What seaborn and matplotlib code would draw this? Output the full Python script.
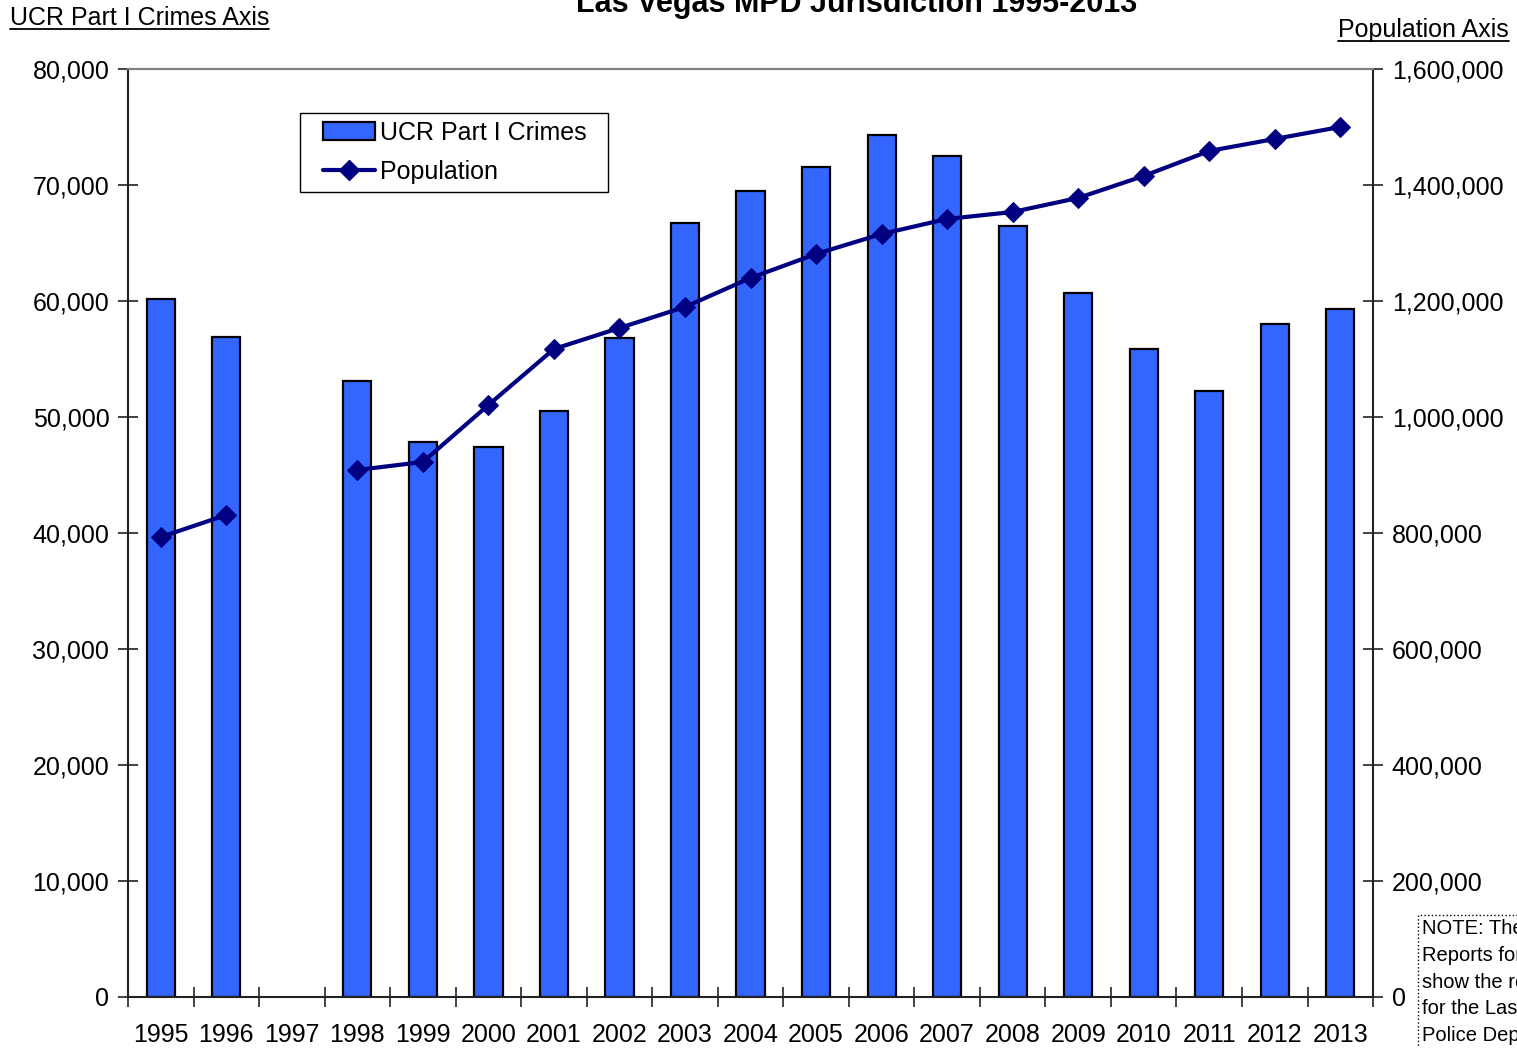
import matplotlib
matplotlib.use("Agg")
import matplotlib.pyplot as plt
import seaborn as sns
import numpy as np
import pandas as pd
from matplotlib.patches import Patch, Rectangle
from matplotlib.lines import Line2D
from matplotlib.ticker import FuncFormatter, FixedLocator

# data (1997 not reported)
years = [str(y) for y in range(1995, 2014)]
crimes = [60170, 56900, np.nan, 53100, 47850, 47400, 50520, 56800, 66720,
          69480, 71550, 74300, 72500, 66470, 60700, 55860, 52240, 58020, 59320]
population = [793000, 831000, np.nan, 908600, 922400, 1020700, 1117200, 1153400,
              1189700, 1239700, 1281000, 1315500, 1341400, 1353400, 1377600,
              1415500, 1458600, 1479300, 1500000]

bar_color = "#3366FF"
line_color = "#000080"

sns.set_theme(style="white")
plt.rcParams["font.family"] = ["Liberation Sans", "DejaVu Sans"]
plt.rcParams["text.color"] = "black"
plt.rcParams["xtick.color"] = "black"
plt.rcParams["ytick.color"] = "black"

df = pd.DataFrame({"year": years, "crimes": crimes, "population": population})
df["pos"] = np.arange(len(years))
# break the line where a year is missing
df["segment"] = df["population"].isna().cumsum()
line_df = df.dropna(subset=["population"])

fig = plt.figure(figsize=(15.17, 10.48), dpi=100)
ax = fig.add_axes([0.0844, 0.0487, 0.8207, 0.8855])

sns.barplot(data=df.dropna(subset=["crimes"]), x="year", y="crimes", order=years,
            color=bar_color, edgecolor="black", linewidth=1.6, width=0.43,
            saturation=1, ax=ax)
ax.set_xlim(-0.5, len(years) - 0.5)
ax.set_ylim(0, 80000)
ax.set_yticks(np.arange(0, 80001, 10000))
ax.yaxis.set_major_formatter(FuncFormatter(lambda v, p: f"{v:,.0f}"))
ax.set_xlabel("")
ax.set_ylabel("")

ax2 = ax.twinx()
sns.lineplot(data=line_df, x="pos", y="population", units="segment", estimator=None,
             color=line_color, linewidth=3, marker="D", markersize=10,
             markeredgecolor=line_color, ax=ax2, legend=False)
ax2.set_ylim(0, 1600000)
ax2.set_yticks(np.arange(0, 1600001, 200000))
ax2.yaxis.set_major_formatter(FuncFormatter(lambda v, p: f"{v:,.0f}"))
ax2.set_xlabel("")
ax2.set_ylabel("")
ax2.set_xlim(-0.5, len(years) - 0.5)

# x ticks at category boundaries, labels centred
ax.xaxis.set_major_locator(FixedLocator(np.arange(-0.5, len(years), 1.0)))
ax.xaxis.set_minor_locator(FixedLocator(np.arange(len(years))))
ax.set_xticklabels([""] * (len(years) + 1))
ax.set_xticklabels(years, minor=True)
ax.tick_params(axis="x", which="major", direction="inout", length=14, width=1.2,
               color="#222222", bottom=True)
ax.tick_params(axis="x", which="minor", length=0, pad=19, labelsize=18,
               labelcolor="black", bottom=True)
ax.tick_params(axis="y", direction="inout", length=15, width=1.2, color="#222222",
               labelsize=18, labelcolor="black", pad=6, left=True)
ax2.tick_params(axis="y", direction="inout", length=15, width=1.2, color="#222222",
                labelsize=18, labelcolor="black", pad=6, right=True)

for s in ["left", "bottom"]:
    ax.spines[s].set_color("#222222")
    ax.spines[s].set_linewidth(1.5)
ax.spines["right"].set_visible(False)
ax.spines["top"].set_color("#808080")
ax.spines["top"].set_linewidth(1.5)
ax2.spines["left"].set_visible(False)
ax2.spines["bottom"].set_visible(False)
ax2.spines["top"].set_color("#808080")
ax2.spines["top"].set_linewidth(1.5)
ax2.spines["right"].set_color("#222222")
ax2.spines["right"].set_linewidth(1.5)

handles = [Patch(facecolor=bar_color, edgecolor="black", linewidth=1.6),
           Line2D([0], [0], color=line_color, linewidth=3, marker="D", markersize=10)]
leg = ax2.legend(handles, ["UCR Part I Crimes", "Population"], loc="upper left",
                 bbox_to_anchor=(0.150, 0.9526), borderaxespad=0, fontsize=18,
                 frameon=False, handlelength=2.1, handletextpad=0.2,
                 borderpad=0.32, labelspacing=0.6)
for t in leg.get_texts():
    t.set_color("black")

fig.text(0.565, 1 - 12 / 1048, "Las Vegas MPD Jurisdiction 1995-2013",
         ha="center", va="baseline", fontsize=22, fontweight="bold")
left_lbl = fig.text(10 / 1517, 1 - 25 / 1048, "UCR Part I Crimes Axis",
                    ha="left", va="baseline", fontsize=18)
right_lbl = fig.text(1509 / 1517, 1 - 37 / 1048, "Population Axis",
                     ha="right", va="baseline", fontsize=18)

fig.text(1422 / 1517, 1 - 919 / 1048,
         "NOTE: The Uniform Crime\nReports for 1997 do not\nshow the results\n"
         "for the Las Vegas Metropolitan\nPolice Department\nfor that year.",
         ha="left", va="top", fontsize=14.5, linespacing=1.52,
         bbox=dict(boxstyle="square,pad=0.2", fc="white", ec="black",
                   ls=":", lw=1))

# underline the axis captions, frame the legend with wider side padding
fig.canvas.draw()
r = fig.canvas.get_renderer()
W, H = fig.bbox.width, fig.bbox.height
for t in (left_lbl, right_lbl):
    bb = t.get_window_extent(renderer=r)
    fy = t.get_position()[1] - 4 / 1048
    fig.add_artist(Line2D([bb.x0 / W, bb.x1 / W], [fy, fy], color="black",
                          linewidth=1.3, transform=fig.transFigure))
lb = leg.get_window_extent(renderer=r)
fig.add_artist(Rectangle(((lb.x0 - 15) / W, lb.y0 / H), (lb.width + 28) / W,
                         lb.height / H, transform=fig.transFigure, fill=False,
                         edgecolor="black", linewidth=1))

fig.savefig("out.png", dpi=100)
